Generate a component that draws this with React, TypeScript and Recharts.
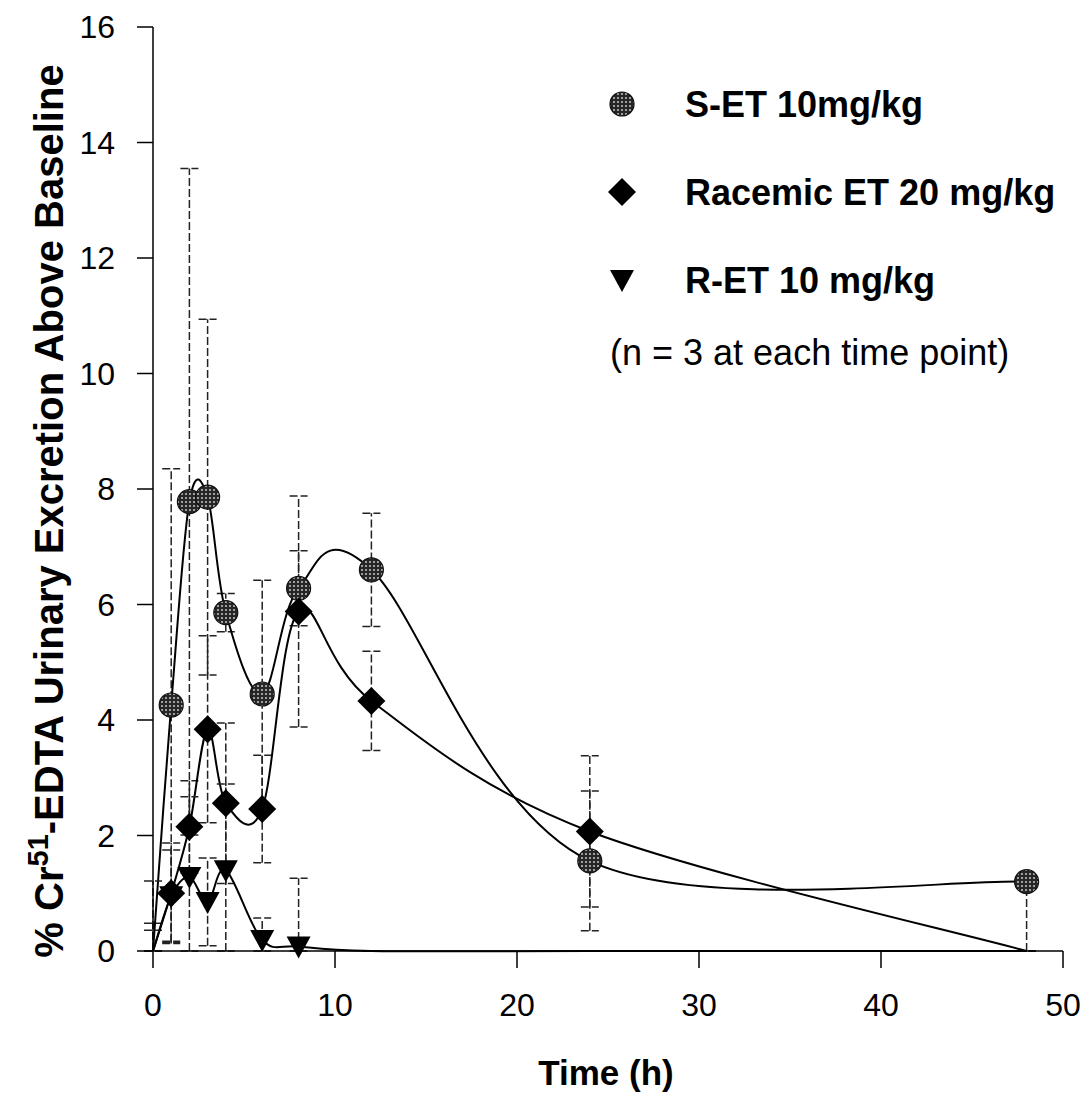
import React from 'react';
import { LineChart, Line, XAxis, YAxis, ErrorBar } from 'recharts';

const timePoints = [0, 1, 2, 3, 4, 6, 8, 12, 24, 48];
const sEt = [0, 4.26, 7.78, 7.86, 5.86, 4.45, 6.28, 6.6, 1.56, 1.2];
const sEtErr = [0.48, 4.09, 5.77, 3.08, 0.33, 1.97, 0.65, 0.98, 1.21, 1.2];
const sEtErrUpperShown = [1, 1, 1, 1, 1, 1, 1, 1, 1, 0];
const racemic = [0, 1.0, 2.15, 3.84, 2.56, 2.46, 5.88, 4.33, 2.07, 0];
const racemicErr = [0.36, 0.87, 0.8, 1.62, 1.39, 0.93, 2.0, 0.86, 1.31, 0];
const rEt = [0, 0.95, 1.28, 0.85, 1.4, 0.19, 0.08, 0, 0, 0];
const rEtErr = [1.21, 0.8, 1.39, 0.76, 1.49, 0.38, 1.18, 0, 0, 0];
const sEtMarker = [false, true, true, true, true, true, true, true, true, true];
const racemicMarker = [false, true, true, true, true, true, true, true, true, false];
const rEtMarker = [false, true, true, true, true, true, true, false, false, false];
const xTicks = [0, 10, 20, 30, 40, 50];
const yTicks = [0, 2, 4, 6, 8, 10, 12, 14, 16];
const legendLabels = ['S-ET 10mg/kg', 'Racemic ET 20 mg/kg', 'R-ET 10 mg/kg'];
const legendNote = '(n = 3 at each time point)';
const xTitle = 'Time (h)';

const FONT = '"Liberation Sans", Arial, Helvetica, sans-serif';

const data = timePoints.map((t, i) => ({
  t,
  s: sEt[i],
  sErr: [Math.min(sEtErr[i], sEt[i]), sEtErr[i] * sEtErrUpperShown[i]],
  r: racemic[i],
  rErr: [Math.min(racemicErr[i], racemic[i]), racemicErr[i]],
  e: rEt[i],
  eErr: [Math.min(rEtErr[i], rEt[i]), rEtErr[i]],
}));

// Excel-like smoothed line (Catmull-Rom / cardinal with tension 0)
function smoothCurve(context: any) {
  let pts: number[][] = [];
  return {
    areaStart() {},
    areaEnd() {},
    lineStart() {
      pts = [];
    },
    lineEnd() {
      const n = pts.length;
      if (!n) return;
      context.moveTo(pts[0][0], pts[0][1]);
      for (let i = 0; i < n - 1; i++) {
        const p0 = pts[Math.max(0, i - 1)];
        const p1 = pts[i];
        const p2 = pts[i + 1];
        const p3 = pts[Math.min(n - 1, i + 2)];
        context.bezierCurveTo(
          p1[0] + (p2[0] - p0[0]) / 6,
          p1[1] + (p2[1] - p0[1]) / 6,
          p2[0] - (p3[0] - p1[0]) / 6,
          p2[1] - (p3[1] - p1[1]) / 6,
          p2[0],
          p2[1]
        );
      }
    },
    point(x: number, y: number) {
      pts.push([+x, +y]);
    },
  };
}

const CircleMark = ({ cx, cy }: { cx: number; cy: number }) => (
  <circle cx={cx} cy={cy} r={12} fill="url(#halftone)" stroke="#111" strokeWidth={1.2} />
);
const DiamondMark = ({ cx, cy }: { cx: number; cy: number }) => (
  <polygon points={`${cx},${cy - 14} ${cx + 14},${cy} ${cx},${cy + 14} ${cx - 14},${cy}`} fill="#000" />
);
const TriangleMark = ({ cx, cy }: { cx: number; cy: number }) => (
  <polygon points={`${cx - 12},${cy - 10} ${cx + 12},${cy - 10} ${cx},${cy + 12}`} fill="#000" />
);

const makeDot = (flags: boolean[], Mark: any) => (props: any) => {
  const { cx, cy, index } = props;
  if (!flags[index] || cx == null || cy == null) return <g key={`d-${index}`} />;
  return (
    <g key={`d-${index}`}>
      <Mark cx={cx} cy={cy} />
    </g>
  );
};

export default function App() {
  return (
    <div style={{ position: 'absolute', left: 0, top: 0, width: 1088, height: 1096, background: '#fff' }}>
      <svg width={1088} height={1096} style={{ position: 'absolute', left: 0, top: 0 }}>
        <defs>
          <pattern id="halftone" width="4" height="4" patternUnits="userSpaceOnUse">
            <rect width="4" height="4" fill="#262626" />
            <circle cx="2" cy="2" r="1" fill="#c8c8c8" />
          </pattern>
        </defs>
      </svg>
      <div style={{ position: 'absolute', left: 0, top: 0 }}>
        <LineChart width={1088} height={1096} data={data} margin={{ top: 27, right: 25, left: 0, bottom: 85 }}>
          <XAxis
            dataKey="t"
            type="number"
            domain={[0, 50]}
            ticks={xTicks}
            height={60}
            tickSize={17}
            tickMargin={25}
            axisLine={{ stroke: '#000', strokeWidth: 1.5 }}
            tickLine={{ stroke: '#000', strokeWidth: 1.5 }}
            tick={{ fontSize: 32, fill: '#000', fontFamily: FONT }}
            interval={0}
          />
          <YAxis
            type="number"
            domain={[0, 16]}
            ticks={yTicks}
            width={153}
            tickSize={16}
            tickMargin={22}
            axisLine={{ stroke: '#000', strokeWidth: 1.5 }}
            tickLine={{ stroke: '#000', strokeWidth: 1.5 }}
            tick={{ fontSize: 32, fill: '#000', fontFamily: FONT }}
            interval={0}
          />
          <Line
            dataKey="s"
            type={smoothCurve as any}
            stroke="#000"
            strokeWidth={2}
            dot={makeDot(sEtMarker, CircleMark)}
            activeDot={false}
            isAnimationActive={false}
          >
            <ErrorBar dataKey="sErr" direction="y" width={9} stroke="#222" strokeWidth={1.5} strokeDasharray="8 3" />
          </Line>
          <Line
            dataKey="r"
            type={smoothCurve as any}
            stroke="#000"
            strokeWidth={2}
            dot={makeDot(racemicMarker, DiamondMark)}
            activeDot={false}
            isAnimationActive={false}
          >
            <ErrorBar dataKey="rErr" direction="y" width={9} stroke="#222" strokeWidth={1.5} strokeDasharray="8 3" />
          </Line>
          <Line
            dataKey="e"
            type={smoothCurve as any}
            stroke="#000"
            strokeWidth={2}
            dot={makeDot(rEtMarker, TriangleMark)}
            activeDot={false}
            isAnimationActive={false}
          >
            <ErrorBar dataKey="eErr" direction="y" width={9} stroke="#222" strokeWidth={1.5} strokeDasharray="8 3" />
          </Line>
        </LineChart>
      </div>
      <svg
        width={1088}
        height={1096}
        style={{ position: 'absolute', left: 0, top: 0, pointerEvents: 'none' }}
        fontFamily={FONT}
      >
        {/* Legend */}
        <circle cx={622} cy={104} r={12} fill="url(#halftone)" stroke="#111" strokeWidth={1.2} />
        <text x={685} y={117} fontSize={36} fontWeight="bold" fill="#000">{legendLabels[0]}</text>
        <polygon points="622,178 636,192 622,206 608,192" fill="#000" />
        <text x={685} y={205} fontSize={36} fontWeight="bold" fill="#000">{legendLabels[1]}</text>
        <polygon points="610,270 634,270 622,292" fill="#000" />
        <text x={685} y={293} fontSize={36} fontWeight="bold" fill="#000">{legendLabels[2]}</text>
        <text x={610} y={365} fontSize={36} fill="#000">{legendNote}</text>
        {/* Axis titles */}
        <text x={606} y={1085} fontSize={35} fontWeight="bold" textAnchor="middle" fill="#000">{xTitle}</text>
        <text transform="translate(63, 511) rotate(-90)" fontSize={40} fontWeight="bold" textAnchor="middle" fill="#000">
          % Cr<tspan dy={-15} fontSize={29}>51</tspan>
          <tspan dy={15}>-EDTA Urinary Excretion Above Baseline</tspan>
        </text>
      </svg>
    </div>
  );
}
